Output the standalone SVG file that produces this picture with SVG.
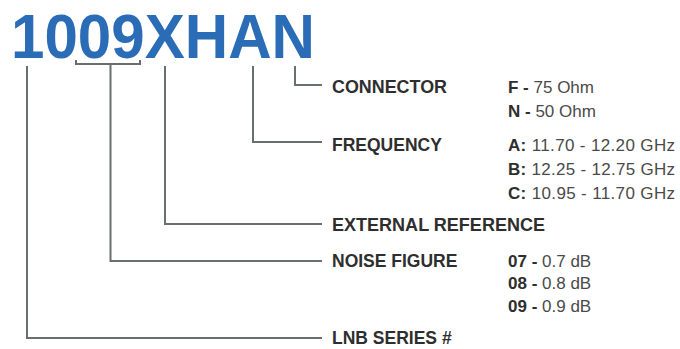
<svg xmlns="http://www.w3.org/2000/svg" width="680" height="349" viewBox="0 0 680 349">
<style>
.title{font-family:"Liberation Sans",Arial,sans-serif;font-weight:bold;font-size:63px;fill:#2a6cb6}
.lbl{font-family:"Liberation Sans",Arial,sans-serif;font-weight:bold;font-size:17.5px;fill:#2e2e2e}
.val{font-family:"Liberation Sans",Arial,sans-serif;font-size:17px;fill:#4a4a4a}
.val .k{font-weight:bold;fill:#2e2e2e}
.ln{fill:none;stroke:#6a6e6e;stroke-width:2}
</style>
<rect width="680" height="349" fill="#ffffff"/>
<g id="title"><text class="title" x="11" y="58" textLength="304" lengthAdjust="spacingAndGlyphs">1009XHAN</text></g>
<g id="connectors">
<path class="ln" d="M295 66 V85 H322"/>
<path class="ln" d="M253 66 V142 H322"/>
<path class="ln" d="M165 66 V224 H322"/>
<path class="ln" d="M76 60 V64 H140 V60 M110.5 64 V261 H322"/>
<path class="ln" d="M27 66 V338 H322"/>
</g>
<g id="connector">
<text class="lbl" x="332" y="93" textLength="115" lengthAdjust="spacingAndGlyphs">CONNECTOR</text>
<text class="val" x="508" y="93"><tspan class="k">F - </tspan>75 Ohm</text>
<text class="val" x="508" y="117"><tspan class="k">N - </tspan>50 Ohm</text>
</g>
<g id="frequency">
<text class="lbl" x="332" y="151">FREQUENCY</text>
<text class="val" x="508" y="151" textLength="167"><tspan class="k">A:</tspan> 11.70 - 12.20 GHz</text>
<text class="val" x="508" y="175" textLength="167"><tspan class="k">B:</tspan> 12.25 - 12.75 GHz</text>
<text class="val" x="508" y="199" textLength="167"><tspan class="k">C:</tspan> 10.95 - 11.70 GHz</text>
</g>
<g id="external-reference">
<text class="lbl" x="332" y="231" textLength="213" lengthAdjust="spacingAndGlyphs">EXTERNAL REFERENCE</text>
</g>
<g id="noise-figure">
<text class="lbl" x="332" y="267">NOISE FIGURE</text>
<text class="val" x="508" y="267"><tspan class="k">07 - </tspan>0.7 dB</text>
<text class="val" x="508" y="289"><tspan class="k">08 - </tspan>0.8 dB</text>
<text class="val" x="508" y="312"><tspan class="k">09 - </tspan>0.9 dB</text>
</g>
<g id="lnb-series">
<text class="lbl" x="332" y="344">LNB SERIES #</text>
</g>
</svg>
